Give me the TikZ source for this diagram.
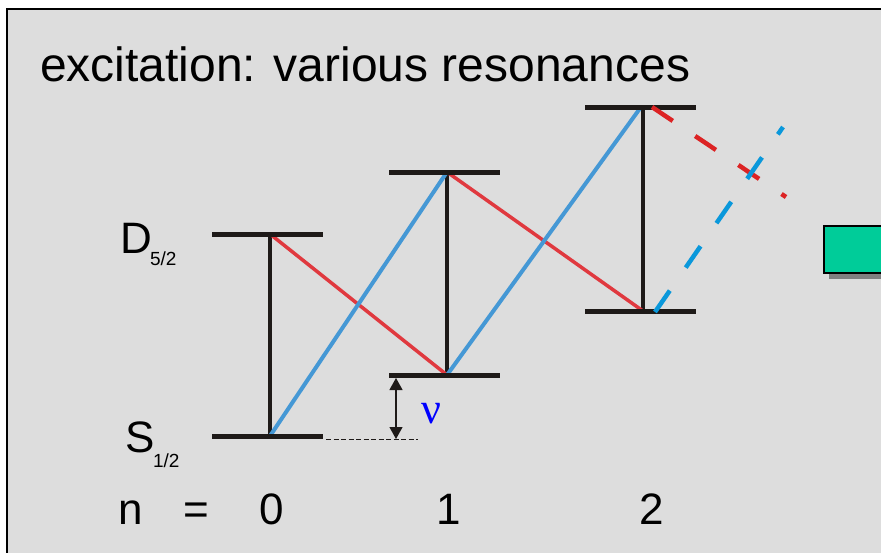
\documentclass[tikz,border=0pt]{standalone}
\usepackage{fontspec}
\setmainfont{Liberation Sans}
\newfontfamily\greekfont{Liberation Serif}
\usetikzlibrary{arrows.meta, calc}
\definecolor{slidegray}{HTML}{DDDDDD}
\definecolor{levelblack}{HTML}{1E1A18}
\definecolor{bsbblue}{HTML}{4598D5}
\definecolor{rsbred}{HTML}{E0393F}
\definecolor{farblue}{HTML}{0A98DB}
\definecolor{farred}{HTML}{DC2324}
\definecolor{boxgreen}{HTML}{00CC99}

\begin{document}
\begin{tikzpicture}[
    x=1pt, y=-1pt,
    every node/.style={inner sep=0pt, outer sep=0pt},
    level/.style={levelblack, line width=5pt},
    carrier/.style={levelblack, line width=4pt},
    bsb/.style={bsbblue, line width=4pt},
    rsb/.style={rsbred, line width=3.5pt},
    farbsb/.style={farblue, line width=4.5pt, dash pattern=on 26pt off 28pt},
    farrsb/.style={farred, line width=4.5pt, dash pattern=on 25pt off 27pt},
    big/.style={font=\fontsize{44}{52}\selectfont},
    small/.style={font=\fontsize{19}{22}\selectfont},
  ]
  \useasboundingbox (0,0) rectangle (881,552);

  % Slide background
  \fill[white] (0,0) rectangle (881,552);
  \fill[slidegray] (7,9) rectangle (890,560);
  \draw[line width=2pt, black] (7,560) -- (7,9) -- (890,9);

  % Title
  \node[anchor=base west, font=\fontsize{48}{56}\selectfont] (title) at (40,81)
    {excitation: various resonances};

  % Level centres
  \coordinate (d0) at (270,234);
  \coordinate (s0) at (270,436);
  \coordinate (d1) at (447,172);
  \coordinate (s1) at (447,375);
  \coordinate (d2) at (643,107);
  \coordinate (s2) at (643,311);

  % Carrier transitions
  \draw[carrier] (s0) -- (d0);
  \draw[carrier] (s1) -- (d1);
  \draw[carrier] (s2) -- (d2);

  % Red sidebands
  \draw[rsb] (d0) -- (s1);
  \draw[rsb] (d1) -- (s2);

  % Blue sidebands
  \draw[bsb] (s0) -- (d1);
  \draw[bsb] (s1) -- ($(d2)+(-2,0)$);

  % Levels
  \foreach \lv in {d0, s0, d1, s1, d2, s2}
    \draw[level] ($(\lv)+(-58,0)$) -- ($(\lv)+(53,0)$);

  % Higher orders
  \coordinate (rend) at (786,197);
  \coordinate (bend) at (783,127);
  \draw[farrsb] ($(d2)+(9,0)$) -- (rend);
  \draw[farbsb] ($(s2)+(12,1)$) -- (bend);

  % Trap frequency
  \coordinate (nutop) at (396,378);
  \coordinate (nubot) at (396,439);
  \draw[levelblack, line width=0.6pt, dash pattern=on 5pt off 2.5pt]
    ($(s0)+(56,3)$) -- (418,439);
  \draw[levelblack, line width=1.2pt,
        {Triangle[width=13pt,length=12pt]}-{Triangle[width=13pt,length=12pt]}]
    (nutop) -- (nubot);
  \node[anchor=base, text=blue, font=\greekfont\fontsize{44}{52}\selectfont] (nu)
    at (431,423) {ν};

  % Level labels
  \node[anchor=base west, big] (dlab) at (120,253) {D};
  \node[anchor=base west, small] (dsub) at (150,265) {5/2};
  \node[anchor=base west, big] (slab) at (125,452) {S};
  \node[anchor=base west, small] (ssub) at (153,467) {1/2};

  % Phonon numbers
  \node[anchor=base west, big] (nlab) at (118,524) {n};
  \node[anchor=base, big] (eq) at (196,524) {=};
  \node[anchor=base, big] (n0) at (272,524) {0};
  \node[anchor=base, big] (n1) at (449,524) {1};
  \node[anchor=base, big] (n2) at (652,524) {2};

  % Box at the right edge
  \fill[gray] (829,233) rectangle (890,279);
  \node[draw=black, line width=2pt, fill=boxgreen, anchor=north west,
        minimum width=70pt, minimum height=47pt] (gbox) at (824,226) {};
\end{tikzpicture}
\end{document}
